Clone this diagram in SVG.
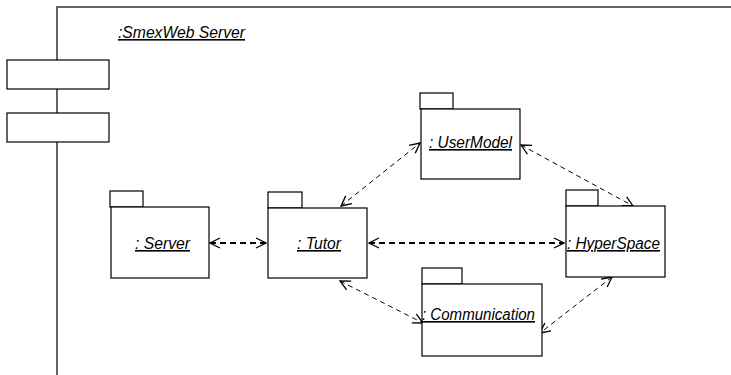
<svg xmlns="http://www.w3.org/2000/svg" width="731" height="375" viewBox="0 0 731 375">
<defs>
<style>
.box{fill:#fff;stroke:#000;stroke-width:1.2}
.lbl{font-family:"Liberation Sans",Arial,sans-serif;font-style:italic;font-size:16px;fill:#000;text-decoration:underline}
.thin{fill:none;stroke:#000;stroke-width:1;stroke-dasharray:5 4}
.thick{fill:none;stroke:#000;stroke-width:2;stroke-dasharray:6 4}
</style>
<marker id="ah" viewBox="0 0 12 12" refX="11" refY="6" markerWidth="12" markerHeight="12" markerUnits="userSpaceOnUse" orient="auto-start-reverse">
<path d="M1,1 L11,6 L1,11" fill="none" stroke="#000" stroke-width="1.3"/>
</marker>
</defs>
<rect width="731" height="375" fill="#fff"/>
<g id="frame">
<path d="M57,375 L57,7 L731,7" fill="none" stroke="#333" stroke-width="1.5"/>
<text class="lbl" x="118" y="38" textLength="127" lengthAdjust="spacingAndGlyphs">:SmexWeb Server</text>
<rect class="box" x="7" y="60" width="102" height="29"/>
<rect class="box" x="7" y="113" width="102" height="29"/>
</g>
<g id="connectors">
<line class="thick" x1="210" y1="243" x2="266" y2="243" marker-start="url(#ah)" marker-end="url(#ah)"/>
<line class="thick" x1="369" y1="243" x2="564" y2="243" marker-start="url(#ah)" marker-end="url(#ah)"/>
<line class="thin" x1="341" y1="206" x2="420" y2="143" marker-start="url(#ah)" marker-end="url(#ah)"/>
<line class="thin" x1="521" y1="145" x2="633" y2="206" marker-start="url(#ah)" marker-end="url(#ah)"/>
<line class="thin" x1="340" y1="281" x2="423" y2="323" marker-start="url(#ah)" marker-end="url(#ah)"/>
<line class="thin" x1="612" y1="277" x2="540" y2="333" marker-start="url(#ah)" marker-end="url(#ah)"/>
</g>
<g id="server">
<rect class="box" x="110" y="191" width="33" height="16"/>
<rect class="box" x="111" y="207" width="98" height="71"/>
<text class="lbl" x="135" y="249" textLength="55" lengthAdjust="spacingAndGlyphs">: Server</text>
</g>
<g id="tutor">
<rect class="box" x="268" y="192" width="34" height="16"/>
<rect class="box" x="268" y="208" width="99" height="70"/>
<text class="lbl" x="297" y="249" textLength="44" lengthAdjust="spacingAndGlyphs">: Tutor</text>
</g>
<g id="usermodel">
<rect class="box" x="420" y="93" width="33" height="16"/>
<rect class="box" x="421" y="109" width="99" height="70"/>
<text class="lbl" x="429" y="148" textLength="83" lengthAdjust="spacingAndGlyphs">: UserModel</text>
</g>
<g id="hyperspace">
<rect class="box" x="566" y="190" width="32" height="16"/>
<rect class="box" x="566" y="206" width="99" height="71"/>
<text class="lbl" x="567" y="249" textLength="93" lengthAdjust="spacingAndGlyphs">: HyperSpace</text>
</g>
<g id="communication">
<rect class="box" x="422" y="268" width="40" height="16"/>
<rect class="box" x="422" y="284" width="120" height="72"/>
<text class="lbl" x="422" y="320" textLength="113" lengthAdjust="spacingAndGlyphs">: Communication</text>
</g>
</svg>
